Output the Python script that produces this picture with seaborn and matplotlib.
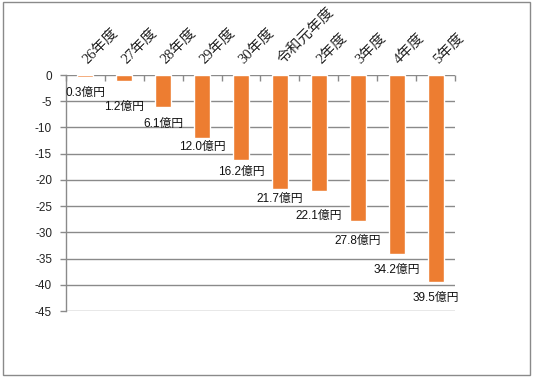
import matplotlib
matplotlib.use("Agg")
import numpy as np
import pandas as pd
import seaborn as sns
from matplotlib import pyplot as plt
from matplotlib.patches import Rectangle

# data
years = ['26年度', '27年度', '28年度', '29年度', '30年度',
         '令和元年度', '2年度', '3年度', '4年度', '5年度']
amounts = [-0.3, -1.2, -6.1, -12.0, -16.2, -21.7, -22.1, -27.8, -34.2, -39.5]
labels = ['0.3億円', '1.2億円', '6.1億円', '12.0億円', '16.2億円',
          '21.7億円', '22.1億円', '27.8億円', '34.2億円', '39.5億円']
yticks = list(range(0, -50, -5))

# label drop below bar end, in pixels (as placed in the original)
label_drop = [16, 26, 17, 9, 12, 10, 25, 20, 16, 16]

sns.set_style('white')
sans = ['Liberation Sans', 'Noto Sans CJK JP']
serif = ['Liberation Serif', 'Noto Sans CJK JP']
plt.rcParams['font.family'] = sans

grey = '#8a8a8a'
bar_color = '#ED7D31'

df = pd.DataFrame({'year': years, 'amount': amounts})

fig = plt.figure(figsize=(5.38, 3.81), dpi=100)
ax = fig.add_axes([0.1227, 0.1837, 0.8457 - 0.1227, 0.8031 - 0.1837])

sns.barplot(data=df, x='year', y='amount', order=years, color=bar_color,
            width=0.41, saturation=1, ax=ax, zorder=3)

ax.set_ylim(-45, 0)
ax.set_xlim(-0.5, len(years) - 0.5)
ax.set_yticks(yticks)
ax.set_yticklabels([str(t) for t in yticks], fontsize=8.5, color='#222222')
ax.set_xlabel('')
ax.set_ylabel('')

# horizontal gridlines
for t in yticks:
    ax.axhline(t, color=grey, lw=1, zorder=1)

# x axis on top, boundary ticks pointing down
ax.xaxis.tick_top()
ax.set_xticks(np.arange(len(years)))
ax.set_xticklabels(years, rotation=45, ha='left', va='center',
                   rotation_mode='anchor', fontsize=10.5, family=serif,
                   color='#222222')
ax.tick_params(axis='x', which='major', length=0, pad=10)
ax.set_xticks(np.arange(-0.5, len(years)), minor=True)
ax.tick_params(axis='x', which='minor', top=True, direction='in', length=4,
               color=grey, width=1)
ax.tick_params(axis='y', which='major', left=True, direction='out', length=4,
               color=grey, width=1, pad=6)

for side in ['right', 'bottom', 'top']:
    ax.spines[side].set_visible(False)
ax.spines['left'].set_color(grey)
ax.spines['left'].set_linewidth(1)

# data labels below bar ends
for i, (v, lab, d) in enumerate(zip(amounts, labels, label_drop)):
    ax.annotate(lab, (i, v), xytext=(0, -d), textcoords='offset pixels',
                ha='center', va='center', fontsize=8.5, color='#111111',
                family=sans, zorder=4)

# outer chart frame
fig.patches.append(Rectangle((3 / 538, 1 - 375 / 381), 527 / 538, 373 / 381,
                             transform=fig.transFigure, fill=False,
                             edgecolor=grey, lw=1))

fig.savefig('out.png', dpi=100)
